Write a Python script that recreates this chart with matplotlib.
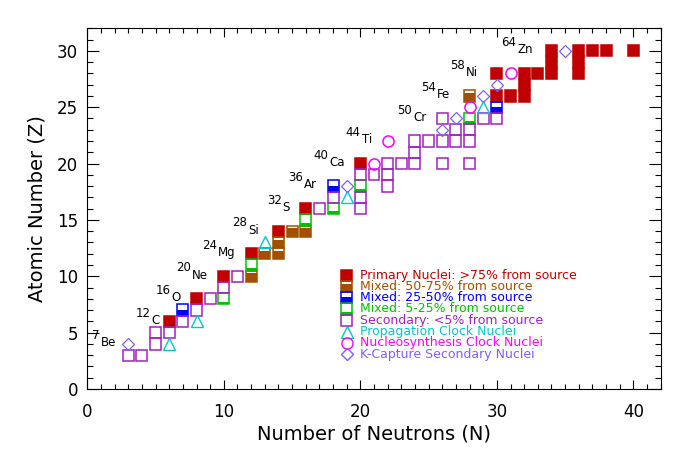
import matplotlib
matplotlib.use('Agg')
import matplotlib.pyplot as plt
from matplotlib.patches import Rectangle
from matplotlib.ticker import MultipleLocator

# nuclides by class, neutron number N and atomic number Z
primary_n = [6, 8, 10, 12, 14, 16, 20, 30, 31, 32, 32, 30, 32, 33, 34, 34, 34, 36, 36, 36, 37, 38, 40]
primary_z = [6, 8, 10, 12, 14, 16, 20, 26, 26, 26, 27, 28, 28, 28, 28, 29, 30, 28, 29, 30, 30, 30, 30]
mixed75_n = [12, 13, 14, 14, 15, 16, 28]
mixed75_z = [10, 12, 12, 13, 14, 14, 26]
mixed50_n = [7, 18, 30]
mixed50_z = [7, 18, 25]
mixed25_n = [10, 12, 16, 18, 20, 28]
mixed25_z = [8, 11, 15, 16, 18, 24]
secondary_n = [3, 4, 5, 5, 6, 7, 8, 9, 10, 11, 17, 18, 20, 20, 20, 21, 22, 22, 22, 23, 24, 24, 24,
               25, 26, 26, 26, 27, 27, 28, 28, 28, 29, 30]
secondary_z = [3, 3, 4, 5, 5, 6, 7, 8, 9, 10, 16, 17, 16, 17, 19, 19, 18, 19, 20, 20, 20, 21, 22,
               22, 20, 22, 24, 22, 23, 20, 22, 23, 24, 24]
prop_n = [6, 8, 13, 19, 29]
prop_z = [4, 6, 13, 17, 25]
synth_n = [21, 22, 28, 31]
synth_z = [20, 22, 25, 28]
kcap_n = [3, 19, 26, 27, 29, 30, 35]
kcap_z = [4, 18, 23, 24, 26, 27, 30]

# labelled isotopes
label_mass = [7, 12, 16, 20, 24, 28, 32, 36, 40, 44, 50, 54, 58, 64]
label_z = [4, 6, 8, 10, 12, 14, 16, 18, 20, 22, 24, 26, 28, 30]
label_elem = ['Be', 'C', 'O', 'Ne', 'Mg', 'Si', 'S', 'Ar', 'Ca', 'Ti', 'Cr', 'Fe', 'Ni', 'Zn']

legend_text = ['Primary Nuclei: >75% from source', 'Mixed: 50-75% from source',
               'Mixed: 25-50% from source', 'Mixed: 5-25% from source',
               'Secondary: <5% from source', 'Propagation Clock Nuclei',
               'Nucleosynthesis Clock Nuclei', 'K-Capture Secondary Nuclei']

RED = '#c00000'
BROWN = '#a05000'
BLUE = '#0000ff'
GREEN = '#00c000'
PURPLE = '#a020c0'
CYAN = '#00c8c8'
MAGENTA = '#ff00ff'
SLATE = '#7f5fff'
W, H = 0.8, 1.0

plt.rcParams['font.family'] = 'DejaVu Sans'

fig = plt.figure(figsize=(6.94, 4.54), dpi=100)
ax = fig.add_axes([0.1258, 0.1432, 0.8262, 0.7945])


def box(x, z, color, frac):
    if frac > 0:
        ax.add_patch(Rectangle((x - W / 2, z - H / 2), W, H * frac, facecolor=color,
                               edgecolor='none', zorder=2))
    ax.add_patch(Rectangle((x - W / 2, z - H / 2), W, H, facecolor='none',
                           edgecolor=color, lw=1.1, zorder=3))


for ns, zs, col, frac in [(primary_n, primary_z, RED, 1.0),
                          (mixed75_n, mixed75_z, BROWN, 0.75),
                          (mixed50_n, mixed50_z, BLUE, 0.55),
                          (mixed25_n, mixed25_z, GREEN, 0.25),
                          (secondary_n, secondary_z, PURPLE, 0.0)]:
    for n, z in zip(ns, zs):
        box(n, z, col, frac)

ax.plot(prop_n, prop_z, '^', ls='none', mfc='none', mec=CYAN, ms=8, mew=1.0, zorder=4)
ax.plot(synth_n, synth_z, 'o', ls='none', mfc='none', mec=MAGENTA, ms=8, mew=1.1, zorder=4)
ax.plot(kcap_n, kcap_z, 'D', ls='none', mfc='none', mec=SLATE, ms=5.8, mew=0.9, zorder=4)

# isotope labels, right edge a little left of the nuclide
nudge = {'Be': 0.9, 'C': 0.7, 'Si': 1.4, 'Fe': 1.4, 'Ni': 1.35, 'Zn': 1.35}
for m, z, el in zip(label_mass, label_z, label_elem):
    n = m - z
    t = ax.text(n - nudge.get(el, 1.15), z + 0.1, el, ha='right', va='center', fontsize=8.5)
    ax.annotate(str(m), xy=(0, 0.55), xycoords=t, xytext=(-0.8, 0), textcoords='offset points',
                ha='right', va='bottom', fontsize=8.5)

# legend drawn in data space
leg_cols = [RED, BROWN, BLUE, GREEN, PURPLE, CYAN, MAGENTA, SLATE]
for k, (txt, col) in enumerate(zip(legend_text, leg_cols)):
    zy = 10.1 - k
    if k < 5:
        box(19, zy, col, [1.0, 0.75, 0.55, 0.25, 0.0][k])
    else:
        mk = ['^', 'o', 'D'][k - 5]
        ax.plot([19], [zy], mk, mfc='none', mec=col, ms=[8, 8, 5.8][k - 5], mew=1.0)
    ax.text(20, zy, txt, color=col, fontsize=9.0, va='center', ha='left')

ax.set_xlim(0, 42)
ax.set_ylim(0, 32)
ax.xaxis.set_major_locator(MultipleLocator(10))
ax.xaxis.set_minor_locator(MultipleLocator(1))
ax.yaxis.set_major_locator(MultipleLocator(5))
ax.yaxis.set_minor_locator(MultipleLocator(1))
ax.tick_params(which='both', direction='in', top=True, right=True, width=0.8, labelsize=12)
ax.tick_params(axis='x', which='major', length=6.2, pad=10)
ax.tick_params(axis='x', which='minor', length=3.8)
ax.tick_params(axis='y', which='major', length=8.9, pad=6.5)
ax.tick_params(axis='y', which='minor', length=4.1)
for sp in ax.spines.values():
    sp.set_linewidth(0.8)

ax.set_xlabel('Number of Neutrons (N)', fontsize=14, va='center')
ax.set_ylabel('Atomic Number (Z)', fontsize=14, va='center')
ax.xaxis.set_label_coords(0.5, -0.125)
ax.yaxis.set_label_coords(-0.088, 0.5)

fig.savefig('out.png', dpi=100)
